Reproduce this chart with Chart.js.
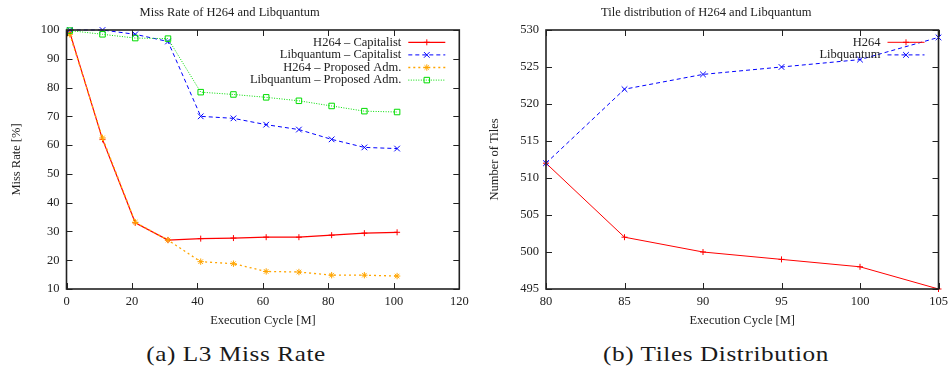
<!DOCTYPE html>
<html><head><meta charset="utf-8">
<script src="https://cdn.jsdelivr.net/npm/chart.js@4/dist/chart.umd.min.js"></script>
<style>
html,body{margin:0;padding:0;background:#fff}
body{width:949px;height:369px;position:relative;overflow:hidden}
.box{position:absolute;top:0;height:330px}
#b1{left:0;width:474px}
#b2{left:474px;width:482px}
.cap{position:absolute;top:341px;font-family:"Liberation Serif",serif;font-size:21px;letter-spacing:0.5px;color:#1a1a1a;white-space:nowrap;transform:translateX(-50%) scaleX(1.2);line-height:26px}
</style></head>
<body>
<div class="box" id="b1"><canvas id="c1" width="474" height="330"></canvas></div>
<div class="box" id="b2"><canvas id="c2" width="482" height="330"></canvas></div>
<div class="cap" style="left:236px">(a) L3 Miss Rate</div>
<div class="cap" style="left:716px">(b) Tiles Distribution</div>
<script>
// ---- Data: (a) L3 miss rate ----
const cyclesA = [1, 11, 21, 31, 41, 51, 61, 71, 81, 91, 101];
const h264Capitalist = [99.2, 62.0, 33.0, 27.0, 27.5, 27.7, 28.0, 28.0, 28.7, 29.4, 29.7];
const libCapitalist  = [100, 100, 98.5, 96.0, 70.0, 69.3, 67.1, 65.4, 62.0, 59.2, 58.8];
const h264Proposed   = [98.5, 62.5, 33.2, 27.0, 19.5, 18.8, 16.1, 15.9, 14.8, 14.8, 14.5];
const libProposed    = [99.8, 98.5, 97.2, 97.0, 78.4, 77.6, 76.6, 75.4, 73.6, 71.8, 71.5];
const labelsA = ['H264 \u2013 Capitalist', 'Libquantum \u2013 Capitalist', 'H264 \u2013 Proposed Adm.', 'Libquantum \u2013 Proposed Adm.'];

// ---- Data: (b) tiles distribution ----
const cyclesB = [80, 85, 90, 95, 100, 105];
const h264Tiles = [512, 502, 500, 499, 498, 495];
const libTiles  = [512, 522, 524, 525, 526, 529];
const labelsB = ['H264', 'Libquantum'];

const FONT = {family: '"Liberation Serif", "Times New Roman", serif', size: 12.5};
Chart.defaults.font.family = FONT.family;
Chart.defaults.color = '#222';

const pts = (xs, ys) => xs.map((x, i) => ({x, y: ys[i]}));

const gpFrame = {
  id: 'gpFrame',
  afterDatasetsDraw(chart) {
    const {ctx, chartArea: a, scales} = chart;
    ctx.save();
    ctx.strokeStyle = '#222';
    ctx.lineWidth = 1;
    const L = 6;
    scales.x.ticks.forEach(t => {
      const px = Math.round(scales.x.getPixelForValue(t.value)) + 0.5;
      ctx.beginPath();
      ctx.moveTo(px, a.bottom); ctx.lineTo(px, a.bottom - L);
      ctx.moveTo(px, a.top); ctx.lineTo(px, a.top + L);
      ctx.stroke();
    });
    scales.y.ticks.forEach(t => {
      const py = Math.round(scales.y.getPixelForValue(t.value)) + 0.5;
      ctx.beginPath();
      ctx.moveTo(a.left, py); ctx.lineTo(a.left + L, py);
      ctx.moveTo(a.right, py); ctx.lineTo(a.right - L, py);
      ctx.stroke();
    });
    ctx.lineWidth = 1.6;
    ctx.strokeRect(a.left, a.top, a.right - a.left, a.bottom - a.top);
    ctx.restore();
  }
};

const gpLegend = {
  id: 'gpLegend',
  afterDraw(chart, args, opts) {
    const {ctx, chartArea: a} = chart;
    ctx.save();
    ctx.font = FONT.size + 'px ' + FONT.family;
    ctx.textAlign = 'right';
    ctx.textBaseline = 'middle';
    const tr = a.right - opts.offset;
    chart.data.datasets.forEach((ds, i) => {
      const y = a.top + opts.top + i * opts.step;
      ctx.fillStyle = '#222';
      ctx.fillText(ds.label, tr, y);
      ctx.strokeStyle = ds.borderColor;
      ctx.lineWidth = ds.borderWidth;
      ctx.setLineDash(ds.borderDash || []);
      ctx.beginPath();
      ctx.moveTo(tr + 7, y); ctx.lineTo(tr + 44, y);
      ctx.stroke();
      ctx.setLineDash([]);
      ctx.fillStyle = ds.pointBackgroundColor;
      ctx.lineWidth = ds.pointBorderWidth || 1;
      Chart.helpers.drawPoint(ctx, {pointStyle: ds.pointStyle, radius: ds.pointRadius, rotation: 0, borderWidth: ctx.lineWidth}, tr + 25.5, y);
    });
    ctx.restore();
  }
};

function ds(label, xs, ys, color, dash, style, r, idx, width) {
  return {
    label, data: pts(xs, ys),
    borderColor: color, backgroundColor: color,
    borderWidth: width || 1, borderDash: dash,
    pointStyle: style, pointRadius: r, pointHoverRadius: r,
    pointBorderColor: color, pointBorderWidth: 1,
    pointBackgroundColor: style === 'rect' ? 'rgba(0,0,0,0)' : color,
    tension: 0, fill: false, clip: false, order: -idx
  };
}

function makeOptions(cfg) {
  return {
    responsive: false, animation: false, events: [],
    layout: {padding: {left: 0, right: cfg.padRight, top: 0, bottom: 0}},
    plugins: {
      legend: {display: false}, tooltip: {enabled: false},
      title: {display: true, text: cfg.title, color: '#222', font: {family: FONT.family, size: FONT.size, weight: 'normal', lineHeight: 1.2}, padding: {top: 4.8, bottom: 10.2}},
      gpLegend: {offset: 58, top: 12.3, step: 12.6}
    },
    scales: {
      x: {
        type: 'linear', min: cfg.xMin, max: cfg.xMax,
        ticks: {stepSize: cfg.xStep, color: '#222', font: {size: FONT.size}, padding: 5, maxRotation: 0, autoSkip: false},
        grid: {display: false, drawTicks: false},
        border: {display: false},
        title: {display: true, text: 'Execution Cycle [M]', color: '#222', font: {size: FONT.size, lineHeight: 1.2}, padding: {top: 0, bottom: 1.5}},
        afterFit: s => { s.height = 41; }
      },
      y: {
        type: 'linear', min: cfg.yMin, max: cfg.yMax,
        ticks: {stepSize: cfg.yStep, color: '#222', font: {size: FONT.size}, padding: 7},
        grid: {display: false, drawTicks: false},
        border: {display: false},
        title: {display: true, text: cfg.yTitle, color: '#222', font: {size: FONT.size, lineHeight: 1.2}, padding: {top: cfg.yTitlePad, bottom: 0}},
        afterFit: s => { s.width = cfg.yWidth; }
      }
    }
  };
}

new Chart(document.getElementById('c1'), {
  type: 'line',
  data: {datasets: [
    ds(labelsA[0], cyclesA, h264Capitalist, '#ff0000', [], 'cross', 3, 0, 1.2),
    ds(labelsA[1], cyclesA, libCapitalist, '#0000ff', [4, 3], 'crossRot', 4, 1),
    ds(labelsA[2], cyclesA, h264Proposed, '#ffa500', [2, 3], 'star', 3.2, 2, 1.3),
    ds(labelsA[3], cyclesA, libProposed, '#00dd00', [1, 1.5], 'rect', 3.9, 3)
  ]},
  options: makeOptions({title: 'Miss Rate of H264 and Libquantum', xMin: 0, xMax: 120, xStep: 20, yMin: 10, yMax: 100, yStep: 10, yTitle: 'Miss Rate [%]', yTitlePad: 9.5, yWidth: 66.5, padRight: 14.7}),
  plugins: [gpFrame, gpLegend]
});

new Chart(document.getElementById('c2'), {
  type: 'line',
  data: {datasets: [
    ds(labelsB[0], cyclesB, h264Tiles, '#ff0000', [], 'cross', 3, 0, 1),
    ds(labelsB[1], cyclesB, libTiles, '#0000ff', [4, 3], 'crossRot', 4, 1)
  ]},
  options: makeOptions({title: 'Tile distribution of H264 and Libquantum', xMin: 80, xMax: 105, xStep: 5, yMin: 495, yMax: 530, yStep: 5, yTitle: 'Number of Tiles', yTitlePad: 13.5, yWidth: 72, padRight: 17.5}),
  plugins: [gpFrame, gpLegend]
});
</script>
</body></html>
